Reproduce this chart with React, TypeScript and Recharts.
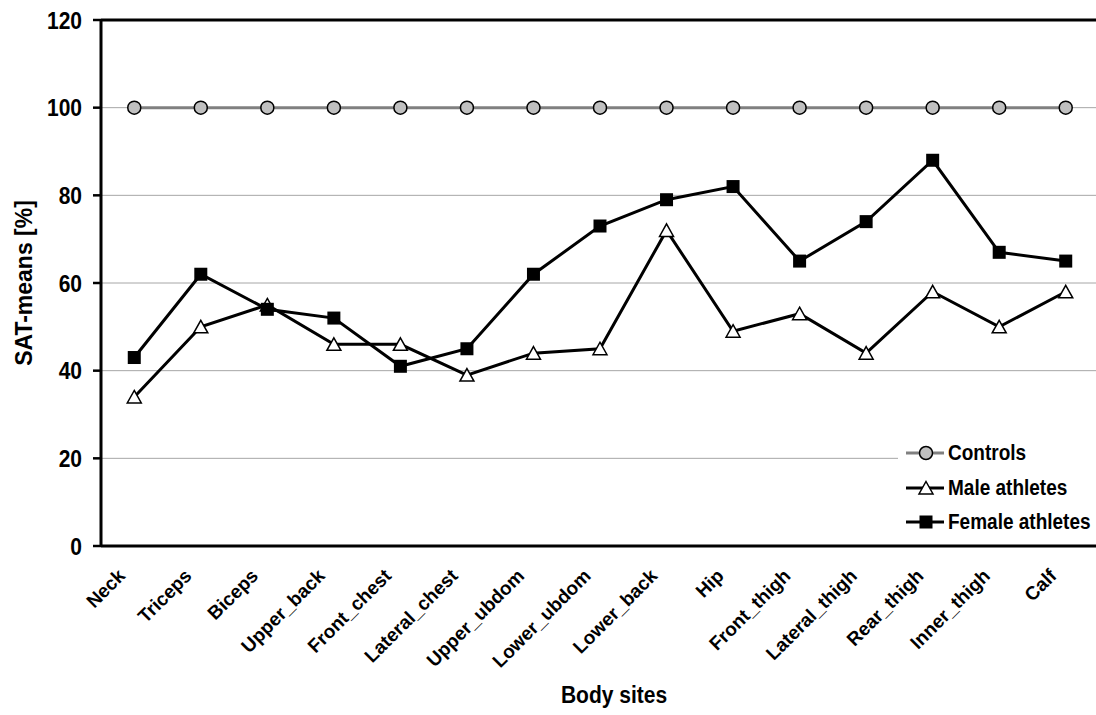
import { LineChart, Line, XAxis, YAxis, CartesianGrid, ReferenceLine, Legend } from "recharts"

const sites = [
  "Neck",
  "Triceps",
  "Biceps",
  "Upper_back",
  "Front_chest",
  "Lateral_chest",
  "Upper_ubdom",
  "Lower_ubdom",
  "Lower_back",
  "Hip",
  "Front_thigh",
  "Lateral_thigh",
  "Rear_thigh",
  "Inner_thigh",
  "Calf",
]
const controls = [100, 100, 100, 100, 100, 100, 100, 100, 100, 100, 100, 100, 100, 100, 100]
const maleAthletes = [34, 50, 55, 46, 46, 39, 44, 45, 72, 49, 53, 44, 58, 50, 58]
const femaleAthletes = [43, 62, 54, 52, 41, 45, 62, 73, 79, 82, 65, 74, 88, 67, 65]
const yTicks = [0, 20, 40, 60, 80, 100, 120]

const data = sites.map((site, i) => ({
  idx: i,
  site,
  controls: controls[i],
  male: maleAthletes[i],
  female: femaleAthletes[i],
}))

// category boundaries for the tick marks, category centres for the labels
const edgeTicks = [...sites.map((_, i) => i - 0.5), sites.length - 0.5]
const labelTicks = sites.map((_, i) => i)
const xDomain = [-0.5, sites.length - 0.5]

const FONT = "Arial, 'Liberation Sans', sans-serif"
// the lettering is a little taller than it is wide
const TALL = 1.16

const CircleDot = (props: any) => {
  const { cx, cy, index } = props
  if (cx == null || cy == null) return null
  return <circle key={index} cx={cx} cy={cy} r={6.5} fill="#c0c0c0" stroke="#000" strokeWidth={1.5} />
}

const TriangleDot = (props: any) => {
  const { cx, cy, index } = props
  if (cx == null || cy == null) return null
  return (
    <polygon
      key={index}
      points={`${cx},${cy - 6.5} ${cx + 7},${cy + 6} ${cx - 7},${cy + 6}`}
      fill="#fff"
      stroke="#000"
      strokeWidth={1.5}
    />
  )
}

const SquareDot = (props: any) => {
  const { cx, cy, index } = props
  if (cx == null || cy == null) return null
  return <rect key={index} x={cx - 6.5} y={cy - 6.5} width={13} height={13} fill="#000" />
}

const SiteTick = (props: any) => {
  const { x, y, payload } = props
  return (
    <g transform={`translate(${x - 8},${y + 30})`}>
      <text
        x={0}
        y={0}
        textAnchor="end"
        transform="rotate(-45)"
        fill="#000"
        fontSize={19}
        fontWeight="bold"
        fontFamily={FONT}
      >
        {sites[payload.value]}
      </text>
    </g>
  )
}

const ValueTick = (props: any) => {
  const { x, y, payload } = props
  return (
    <text
      transform={`translate(${x},${y}) scale(1,${TALL})`}
      dy="0.36em"
      textAnchor="end"
      fill="#000"
      fontSize={21}
      fontWeight="bold"
      fontFamily={FONT}
    >
      {payload.value}
    </text>
  )
}

const YTitle = (props: any) => {
  const { viewBox } = props
  const cy = viewBox.y + viewBox.height / 2
  return (
    <text
      transform={`translate(32,${cy}) rotate(-90)`}
      textAnchor="middle"
      fill="#000"
      fontSize={23}
      fontWeight="bold"
      fontFamily={FONT}
    >
      SAT-means [%]
    </text>
  )
}

const XTitle = (props: any) => {
  const { viewBox } = props
  const cx = viewBox.x + viewBox.width / 2 + 14
  const by = viewBox.y + viewBox.height - 12
  return (
    <text
      transform={`translate(${cx},${by}) scale(1,${TALL})`}
      textAnchor="middle"
      fill="#000"
      fontSize={21}
      fontWeight="bold"
      fontFamily={FONT}
    >
      Body sites
    </text>
  )
}

const legendItems = [
  { name: "Controls", color: "#808080", Dot: CircleDot },
  { name: "Male athletes", color: "#000", Dot: TriangleDot },
  { name: "Female athletes", color: "#000", Dot: SquareDot },
]

const LegendBox = () => (
  <div style={{ background: "#fff", paddingLeft: 8, width: 210 }}>
    {legendItems.map(({ name, color, Dot }) => (
      <div key={name} style={{ display: "flex", alignItems: "center", height: 34.5 }}>
        <svg width={38} height={18}>
          <line x1={0} y1={9} x2={38} y2={9} stroke={color} strokeWidth={3} />
          <Dot cx={20} cy={9} index={0} />
        </svg>
        <span
          style={{
            display: "inline-block",
            marginLeft: 4,
            fontFamily: FONT,
            fontSize: 19,
            fontWeight: "bold",
            color: "#000",
            whiteSpace: "nowrap",
            transform: `scaleY(${TALL})`,
          }}
        >
          {name}
        </span>
      </div>
    ))}
  </div>
)

export default function App() {
  return (
    <div style={{ position: "absolute", left: 0, top: 0, width: 1096, height: 715, overflow: "hidden", background: "#fff" }}>
      <LineChart width={1110} height={715} data={data} margin={{ top: 20, right: 11, bottom: 0, left: 0 }}>
        <CartesianGrid xAxisId="lab" vertical={false} stroke="#a6a6a6" strokeWidth={1} />
        <XAxis
          xAxisId="edge"
          type="number"
          dataKey="idx"
          domain={xDomain}
          ticks={edgeTicks}
          interval={0}
          allowDataOverflow
          tick={false}
          tickSize={7}
          tickLine={{ stroke: "#000", strokeWidth: 2.5 }}
          axisLine={{ stroke: "#000", strokeWidth: 3 }}
          height={1}
        />
        <XAxis
          xAxisId="lab"
          type="number"
          dataKey="idx"
          domain={xDomain}
          ticks={labelTicks}
          interval={0}
          allowDataOverflow
          axisLine={false}
          tickLine={false}
          tickSize={0}
          tickMargin={0}
          tick={<SiteTick />}
          height={168}
          label={{ content: XTitle }}
        />
        <YAxis
          type="number"
          domain={[0, 120]}
          ticks={yTicks}
          interval={0}
          width={101}
          tickSize={8}
          tickMargin={11}
          tickLine={{ stroke: "#000", strokeWidth: 2.5 }}
          axisLine={{ stroke: "#000", strokeWidth: 3 }}
          tick={<ValueTick />}
          label={{ content: YTitle }}
        />
        <ReferenceLine xAxisId="lab" y={120} stroke="#000" strokeWidth={3} />
        <Legend
          layout="horizontal"
          verticalAlign="middle"
          align="center"
          content={<LegendBox />}
          wrapperStyle={{ left: 898, top: 436, width: 220 }}
        />
        <Line
          xAxisId="lab"
          type="linear"
          dataKey="controls"
          name="Controls"
          stroke="#808080"
          strokeWidth={3}
          dot={CircleDot}
          isAnimationActive={false}
        />
        <Line
          xAxisId="lab"
          type="linear"
          dataKey="male"
          name="Male athletes"
          stroke="#000"
          strokeWidth={3}
          dot={TriangleDot}
          isAnimationActive={false}
        />
        <Line
          xAxisId="lab"
          type="linear"
          dataKey="female"
          name="Female athletes"
          stroke="#000"
          strokeWidth={3}
          dot={SquareDot}
          isAnimationActive={false}
        />
      </LineChart>
    </div>
  )
}
